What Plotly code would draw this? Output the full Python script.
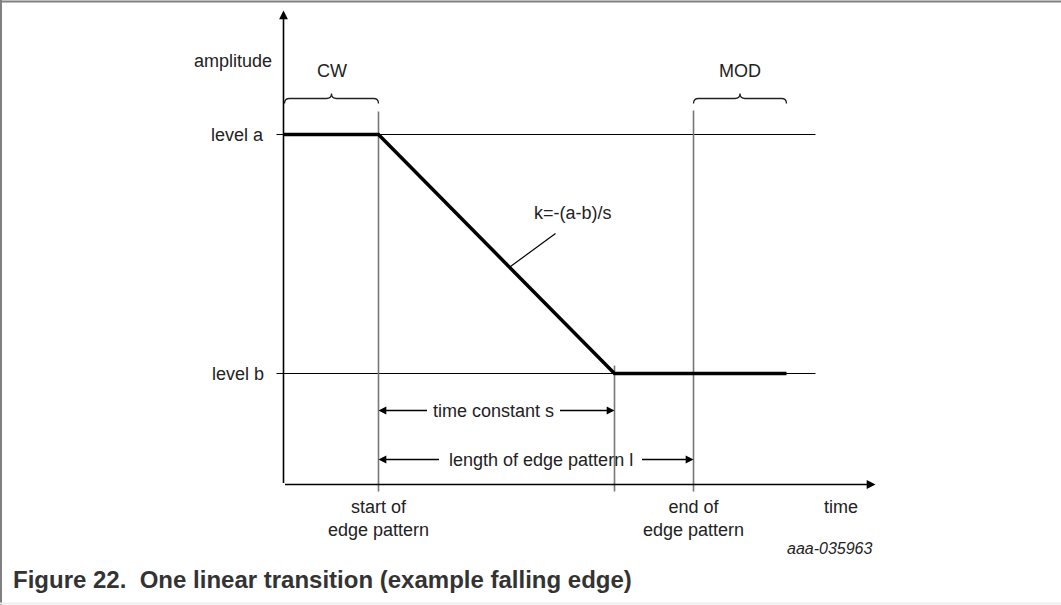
import plotly.graph_objects as go

# ---- data (diagram units: 1 unit of time / amplitude) ----
signal_time = [0.0, 9.5, 33.1, 50.3]
signal_amp = [35.0, 35.0, 11.1, 11.1]

level_names = ["level a", "level b"]
level_values = [35.0, 11.1]
level_line_end = 53.2

marker_times = [9.5, 33.1, 41.0]          # start, end of slope, end of pattern
marker_tops = [37.3, 11.9, 37.4]
marker_labels = ["start of<br>edge pattern", "", "end of<br>edge pattern"]

axis_time_max = 59.2
axis_amp_max = 47.4

brace_names = ["CW", "MOD"]
brace_starts = [0.1, 41.0]
brace_ends = [9.5, 50.3]
brace_level = 38.6

span_labels = ["time constant s", "length of edge pattern l"]
span_starts = [9.5, 9.5]
span_ends = [33.1, 41.0]
span_amps = [7.4, 2.5]
span_text_x = [21.0, 25.7]
span_text_half = [6.5, 10.0]

slope_label = "k=-(a-b)/s"
slope_label_pos = (28.9, 27.2)
slope_leader = [(27.2, 25.1), (22.7, 21.8)]

caption = "Figure 22.  One linear transition (example falling edge)"
figure_id = "aaa-035963"

FONT = "Arial, Liberation Sans, sans-serif"
TXT = "#222222"

fig = go.Figure()

# signal
fig.add_trace(go.Scatter(x=signal_time, y=signal_amp, mode="lines",
                         line=dict(color="black", width=3.5), hoverinfo="skip",
                         showlegend=False))

shapes = []
annotations = []

# level lines + labels
for name, v in zip(level_names, level_values):
    shapes.append(dict(type="line", xref="x", yref="y", x0=-0.7, x1=level_line_end,
                       y0=v, y1=v, line=dict(color="black", width=1.2), layer="below"))
    annotations.append(dict(x=-1.8, y=v, xref="x", yref="y", text=name, showarrow=False,
                            xanchor="right", yanchor="middle",
                            font=dict(family=FONT, size=18, color=TXT)))

# marker vertical lines + labels
for t, top, lab in zip(marker_times, marker_tops, marker_labels):
    shapes.append(dict(type="line", xref="x", yref="y", x0=t, x1=t, y0=-0.7, y1=top,
                       line=dict(color="#777777", width=1.6), layer="below"))
    if lab:
        annotations.append(dict(x=t, y=-1.0, xref="x", yref="y", text=lab, showarrow=False,
                                xanchor="center", yanchor="top",
                                font=dict(family=FONT, size=18, color=TXT)))

# axes with arrows
annotations.append(dict(x=0, y=axis_amp_max, ax=0, ay=0, xref="x", yref="y",
                        axref="x", ayref="y", text="", showarrow=True,
                        arrowhead=2, arrowsize=1.1, arrowwidth=1.6, arrowcolor="black"))
annotations.append(dict(x=axis_time_max, y=0, ax=0, ay=0, xref="x", yref="y",
                        axref="x", ayref="y", text="", showarrow=True,
                        arrowhead=2, arrowsize=1.1, arrowwidth=1.6, arrowcolor="black"))
annotations.append(dict(x=-5.1, y=42.4, xref="x", yref="y", text="amplitude", showarrow=False,
                        xanchor="center",
                        font=dict(family=FONT, size=18, color=TXT)))
annotations.append(dict(x=55.7, y=-2.2, xref="x", yref="y", text="time", showarrow=False,
                        xanchor="center",
                        font=dict(family=FONT, size=18, color=TXT)))

# braces
def brace_path(x1, x2, y, h=0.5, r=0.5):
    xm = (x1 + x2) / 2
    return (f"M {x1},{y-h} Q {x1},{y} {x1+r},{y} L {xm-r},{y} "
            f"Q {xm},{y} {xm},{y+h} Q {xm},{y} {xm+r},{y} L {x2-r},{y} "
            f"Q {x2},{y} {x2},{y-h}")

for name, a, b in zip(brace_names, brace_starts, brace_ends):
    shapes.append(dict(type="path", xref="x", yref="y", path=brace_path(a, b, brace_level),
                       line=dict(color="#222222", width=1.3)))
    annotations.append(dict(x=(a + b) / 2, y=brace_level + 1.6, xref="x", yref="y", text=name,
                            showarrow=False, yanchor="bottom", xanchor="center",
                            font=dict(family=FONT, size=18, color=TXT)))

# span arrows
for lab, a, b, yv, tx, half in zip(span_labels, span_starts, span_ends, span_amps,
                                    span_text_x, span_text_half):
    annotations.append(dict(x=tx, y=yv, xref="x", yref="y", text=lab, showarrow=False,
                            xanchor="center",
                            font=dict(family=FONT, size=18, color=TXT)))
    annotations.append(dict(x=a, y=yv, ax=tx - half, ay=yv, xref="x", yref="y",
                            axref="x", ayref="y", text="", showarrow=True,
                            arrowhead=2, arrowsize=1.2, arrowwidth=1.3, arrowcolor="black"))
    annotations.append(dict(x=b, y=yv, ax=tx + half, ay=yv, xref="x", yref="y",
                            axref="x", ayref="y", text="", showarrow=True,
                            arrowhead=2, arrowsize=1.2, arrowwidth=1.3, arrowcolor="black"))

# slope label with leader
annotations.append(dict(x=slope_label_pos[0], y=slope_label_pos[1], xref="x", yref="y",
                        text=slope_label, showarrow=False, xanchor="center",
                        font=dict(family=FONT, size=18, color=TXT)))
shapes.append(dict(type="line", xref="x", yref="y",
                   x0=slope_leader[0][0], y0=slope_leader[0][1],
                   x1=slope_leader[1][0], y1=slope_leader[1][1],
                   line=dict(color="black", width=1.2)))

# figure id and caption (pixel positions converted to paper below)
annotations.append(dict(x=830, y=548, xref="paper", yref="paper", text=f"<i>{figure_id}</i>",
                        showarrow=False, xanchor="center", yanchor="middle",
                        font=dict(family=FONT, size=16, color=TXT)))
annotations.append(dict(x=11, y=579, xref="paper", yref="paper", text=f"<b>{caption}</b>",
                        showarrow=False, xanchor="left", yanchor="middle",
                        font=dict(family=FONT, size=24, color="#333333")))

# frame lines
shapes.append(dict(type="line", xref="paper", yref="paper", x0=0, x1=1061, y0=1.5, y1=1.5,
                   line=dict(color="#808080", width=2)))
shapes.append(dict(type="line", xref="paper", yref="paper", x0=1, x1=1, y0=0, y1=605,
                   line=dict(color="#808080", width=2)))
shapes.append(dict(type="line", xref="paper", yref="paper", x0=0, x1=1061, y0=603.5, y1=603.5,
                   line=dict(color="#eeeeee", width=2)))

fig.update_layout(
    width=1061, height=605, autosize=False,
    margin=dict(l=0, r=0, t=0, b=0),
    paper_bgcolor="white", plot_bgcolor="white",
    shapes=shapes, annotations=annotations,
    xaxis=dict(visible=False, range=[-28.35, 77.75], fixedrange=True),
    yaxis=dict(visible=False, range=[-12.05, 48.45], fixedrange=True),
    showlegend=False,
)

# paper-coordinate helper: map pixel positions to paper fractions
for ann in fig.layout.annotations:
    if ann.xref == "paper":
        ann.x = ann.x / 1061
        ann.y = 1 - ann.y / 605
for sh in fig.layout.shapes:
    if sh.xref == "paper":
        sh.x0 = sh.x0 / 1061
        sh.x1 = sh.x1 / 1061
        sh.y0 = 1 - sh.y0 / 605
        sh.y1 = 1 - sh.y1 / 605

fig.write_html("out.html", config={"displayModeBar": False},
               post_script="document.body.style.margin='0';document.body.style.overflow='hidden';")
